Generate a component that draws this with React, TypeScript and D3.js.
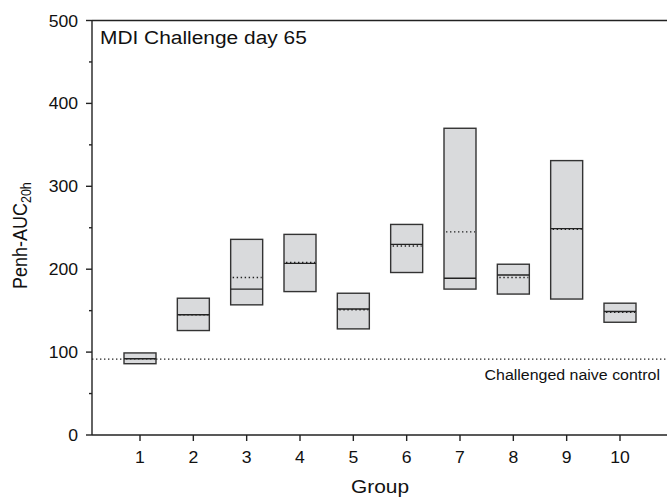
import * as React from 'react'
import * as d3 from 'd3'

const groups = [1, 2, 3, 4, 5, 6, 7, 8, 9, 10]
const boxLow = [86, 126, 157, 173, 128, 196, 176, 170, 164, 136]
const boxHigh = [99, 165, 236, 242, 171, 254, 370, 206, 331, 159]
const medians = [92, 145, 176, 207, 152, 230, 189, 193, 249, 149]
const means = [92, 145, 190, 208, 151, 228, 245, 190, 248, 148]
const controlValue = 91.5
const yMajor = [0, 100, 200, 300, 400, 500]
const yMinor = [50, 150, 250, 350, 450]

const W = 667
const H = 497
const FONT = 'Liberation Sans, Arial, Helvetica, sans-serif'
const INK = '#222'
const SX = 1.1 // the original figure is a little stretched sideways

// text with the same horizontal stretch as the source image
const T = ({ x, y, anchor = 'start', size, children, rotate = 0 }: any) => (
  <text
    transform={`translate(${x},${y}) scale(${SX},1) rotate(${rotate})`}
    textAnchor={anchor}
    fontFamily={FONT}
    fontSize={size}
    fill="#111"
  >
    {children}
  </text>
)

export default function App() {
  const x = d3.scaleLinear().domain([0, 11]).range([86.67, 673.33])
  const y = d3.scaleLinear().domain([0, 500]).range([435, 20.5])
  const left = 92
  const half = 0.3

  return (
    <svg width={W} height={H} style={{ position: 'absolute', left: 0, top: 0 }}>
      <rect width={W} height={H} fill="#fff" />

      {/* control line */}
      <line x1={left} x2={W} y1={y(controlValue)} y2={y(controlValue)}
        stroke={INK} strokeWidth={1.4} strokeDasharray="1.4,2.6" />
      <T x={660} y={379.5} anchor="end" size={14.5}>Challenged naive control</T>

      {/* boxes */}
      {groups.map((g, i) => {
        const x0 = x(g - half)
        const x1 = x(g + half)
        return (
          <g key={g}>
            <rect x={x0} y={y(boxHigh[i])} width={x1 - x0} height={y(boxLow[i]) - y(boxHigh[i])}
              fill="#d9dadc" stroke="#333" strokeWidth={1.4} />
            <line x1={x0} x2={x1} y1={y(medians[i])} y2={y(medians[i])} stroke="#222" strokeWidth={1.4} />
            <line x1={x0 + 2} x2={x1 - 1} y1={y(means[i])} y2={y(means[i])}
              stroke="#222" strokeWidth={1.4} strokeDasharray="1.4,2.6" />
          </g>
        )
      })}

      {/* frame */}
      <line x1={left} x2={left} y1={y(0)} y2={y(500)} stroke={INK} strokeWidth={1.4} />
      <line x1={left} x2={W} y1={y(0)} y2={y(0)} stroke={INK} strokeWidth={1.4} />
      <line x1={left} x2={W} y1={y(500)} y2={y(500)} stroke={INK} strokeWidth={1.4} />

      {/* y ticks */}
      {yMajor.map((v) => (
        <g key={v}>
          <line x1={left - 6} x2={left} y1={y(v)} y2={y(v)} stroke={INK} strokeWidth={1.4} />
          <T x={78} y={y(v) + 6} anchor="end" size={16}>{v}</T>
        </g>
      ))}
      {yMinor.map((v) => (
        <line key={v} x1={left - 3} x2={left} y1={y(v)} y2={y(v)} stroke={INK} strokeWidth={1.4} />
      ))}

      {/* x ticks */}
      {groups.map((g) => (
        <g key={g}>
          <line x1={x(g)} x2={x(g)} y1={y(0)} y2={y(0) + 6} stroke={INK} strokeWidth={1.4} />
          <T x={x(g)} y={462.7} anchor="middle" size={16}>{g}</T>
        </g>
      ))}

      {/* titles */}
      <T x={100} y={43.5} size={19}>MDI Challenge day 65</T>
      <T x={380} y={492.5} anchor="middle" size={19}>Group</T>
      <text transform={`translate(27,289) scale(${SX},1) rotate(-90)`} fontFamily={FONT} fontSize={18} fill="#111">
        Penh-AUC
        <tspan fontSize={12.5} dy={4}>20h</tspan>
      </text>
    </svg>
  )
}
